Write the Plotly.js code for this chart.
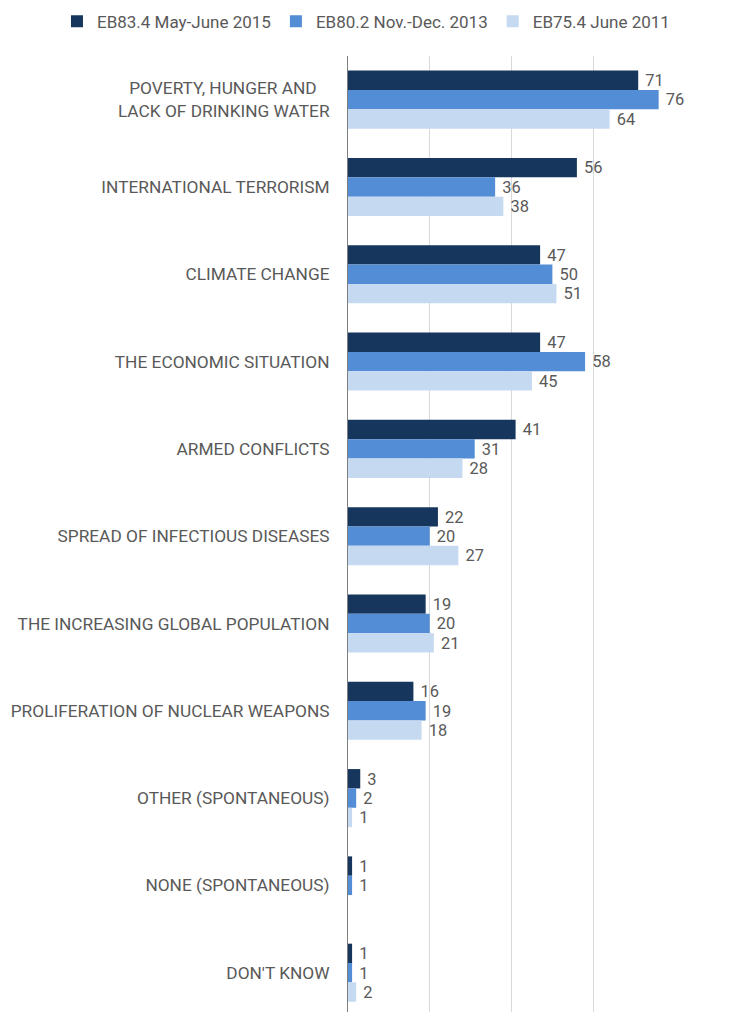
<!DOCTYPE html>
<html>
<head>
<meta charset="utf-8">
<script src="https://cdn.plot.ly/plotly-3.0.1.min.js"></script>
<style>html,body{margin:0;padding:0;background:#fff;}#chart{width:745px;height:1012px;}</style>
</head>
<body>
<div id="chart"></div>
<script>
const categories = [
  "POVERTY, HUNGER AND\u00A0\u00A0\u00A0<br>LACK OF DRINKING WATER",
  "INTERNATIONAL TERRORISM",
  "CLIMATE CHANGE",
  "THE ECONOMIC SITUATION",
  "ARMED CONFLICTS",
  "SPREAD OF INFECTIOUS DISEASES",
  "THE INCREASING GLOBAL POPULATION",
  "PROLIFERATION OF NUCLEAR WEAPONS",
  "OTHER (SPONTANEOUS)",
  "NONE (SPONTANEOUS)",
  "DON'T KNOW"
];
const seriesNames = ["EB83.4 May-June 2015", "EB80.2 Nov.-Dec. 2013", "EB75.4 June 2011"];
const values2015 = [71, 56, 47, 47, 41, 22, 19, 16, 3, 1, 1];
const values2013 = [76, 36, 50, 58, 31, 20, 20, 19, 2, 1, 1];
const values2011 = [64, 38, 51, 45, 28, 27, 21, 18, 1, null, 2];
const colors = ["#17365D", "#538DD5", "#C5D9F1"];
const xTicks = [0, 20, 40, 60, 80];

const font = "Roboto, 'Segoe UI', sans-serif";
const textColor = "#595959";

const allSeries = [values2015, values2013, values2011];
const traces = allSeries.map((vals, i) => ({
  type: "bar",
  orientation: "h",
  name: seriesNames[i],
  y: categories,
  x: vals,
  text: vals.map(v => v === null ? "" : "\u00A0" + String(v)),
  textposition: "outside",
  cliponaxis: false,
  textfont: {family: font, size: 17, color: textColor},
  marker: {color: colors[i], line: {width: 0}},
  hoverinfo: "x+y"
}));

const layout = {
  width: 745,
  height: 1012,
  margin: {l: 348, r: 70, t: 56, b: 0, pad: 0, autoexpand: false},
  paper_bgcolor: "#ffffff",
  plot_bgcolor: "#ffffff",
  barmode: "group",
  bargap: 0.335,
  bargroupgap: 0,
  showlegend: true,
  legend: {
    orientation: "h",
    x: -0.89, xanchor: "left",
    y: 1.036, yanchor: "middle",
    traceorder: "normal",
    font: {family: font, size: 17, color: textColor},
    itemwidth: 30
  },
  xaxis: {
    range: [0, 80],
    tickvals: xTicks,
    showticklabels: false,
    showgrid: true,
    gridcolor: "#d9d9d9",
    gridwidth: 1,
    zeroline: false,
    showline: false,
    fixedrange: true
  },
  yaxis: {
    type: "category",
    range: [10.45, -0.5],
    showline: true,
    linecolor: "#7f7f7f",
    linewidth: 1,
    ticks: "",
    ticklabelstandoff: 14,
    tickfont: {family: font, size: 17.3, color: textColor},
    showgrid: false,
    zeroline: false,
    fixedrange: true
  }
};

Plotly.newPlot("chart", traces, layout, {displayModeBar: false, staticPlot: true});
</script>
</body>
</html>
